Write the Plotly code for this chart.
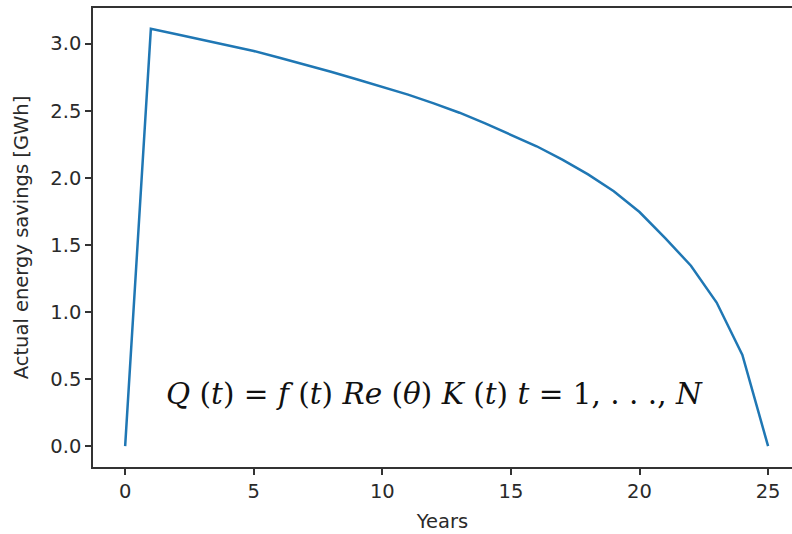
import plotly.graph_objects as go

years = list(range(0, 26))
savings = [0.0, 3.11, 3.07, 3.03, 2.99, 2.945, 2.895, 2.845, 2.79, 2.735,
           2.68, 2.62, 2.555, 2.485, 2.405, 2.32, 2.235, 2.135, 2.025, 1.90,
           1.745, 1.55, 1.345, 1.07, 0.68, 0.0]

x_ticks = [0, 5, 10, 15, 20, 25]
y_ticks = [0.0, 0.5, 1.0, 1.5, 2.0, 2.5, 3.0]
y_tick_text = ["0.0", "0.5", "1.0", "1.5", "2.0", "2.5", "3.0"]

x_title = "Years"
y_title = "Actual energy savings [GWh]"
formula = ("<i>Q</i> (<i>t</i>) = <i>f</i> (<i>t</i>) <i>Re</i> (<i>θ</i>) "
           "<i>K</i> (<i>t</i>) <i>t</i> = 1, . . ., <i>N</i>")

fig = go.Figure()
fig.add_trace(go.Scatter(x=years, y=savings, mode="lines",
                         line=dict(color="#1f77b4", width=2.5),
                         showlegend=False, hoverinfo="skip"))

axis_font = dict(family="DejaVu Sans", size=19.5, color="#2a2a2a")

fig.update_layout(
    width=792, height=534,
    margin=dict(l=93, r=0, t=8, b=67),
    plot_bgcolor="white", paper_bgcolor="white",
    xaxis=dict(range=[-1.25, 25.93], tickmode="array", tickvals=x_ticks,
               ticks="outside", ticklen=6, tickwidth=1.5, tickcolor="#333333",
               showgrid=False, zeroline=False, showline=True, linecolor="#333333",
               linewidth=1.5, mirror=True, tickfont=axis_font,
               title=dict(text=x_title, font=axis_font, standoff=12)),
    yaxis=dict(range=[-0.1555, 3.2655], tickmode="array", tickvals=y_ticks,
               ticktext=y_tick_text,
               ticks="outside", ticklen=6, tickwidth=1.5, tickcolor="#333333",
               showgrid=False, zeroline=False, showline=True, linecolor="#333333",
               linewidth=1.5, mirror=False, tickfont=axis_font,
               title=dict(text=y_title, font=axis_font, standoff=17)),
    annotations=[dict(text=formula, xref="paper", yref="paper",
                      x=(434 - 93) / 699, y=(467 - 394) / 459,
                      xanchor="center", yanchor="middle", showarrow=False,
                      font=dict(family="DejaVu Serif", size=29.5, color="#111111"))],
)

fig.write_html("out.html")
